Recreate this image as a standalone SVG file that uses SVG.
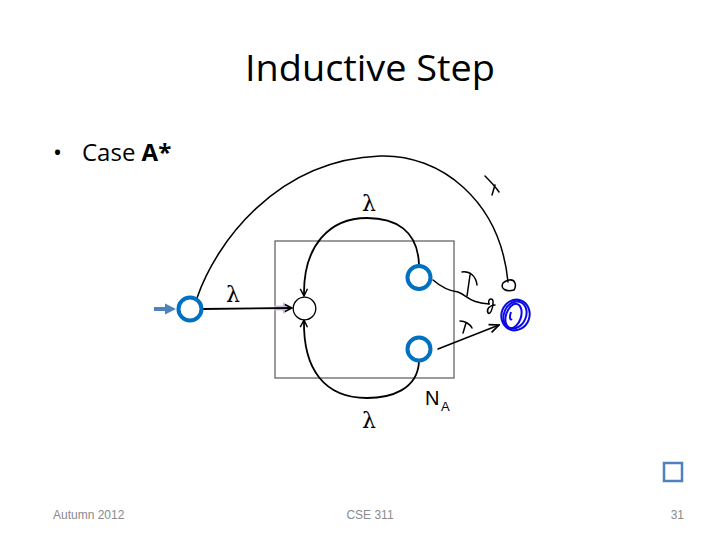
<svg xmlns="http://www.w3.org/2000/svg" width="720" height="540" viewBox="0 0 720 540">
<style>
.title{font-family:"Open Sans","Liberation Sans",sans-serif;font-size:37px;fill:#000}
.body{font-family:"Open Sans","Liberation Sans",sans-serif;font-size:24px;fill:#000}
.lam{font-family:"DejaVu Serif","Liberation Serif",serif;font-size:22px;fill:#000}
.foot{font-family:"Liberation Sans",sans-serif;font-size:12px;fill:#8a8a8a}
.edge{fill:none;stroke:#000;stroke-width:1.8}
.ink{fill:none;stroke:#000;stroke-width:1.5;stroke-linecap:round;stroke-linejoin:round}
.bnode{fill:#fff;stroke:#0070C0;stroke-width:4}
</style>
<defs>
<marker id="chev" viewBox="0 0 10 10" refX="9" refY="5" markerWidth="9" markerHeight="9" markerUnits="userSpaceOnUse" orient="auto">
<path d="M1,1 L9,5 L1,9" fill="none" stroke="#000" stroke-width="1.6"/>
</marker>
<marker id="chevBig" viewBox="0 0 10 10" refX="9" refY="5" markerWidth="12" markerHeight="12" markerUnits="userSpaceOnUse" orient="auto">
<path d="M1,1.5 L9,5 L1,8.5" fill="none" stroke="#000" stroke-width="1.4"/>
</marker>
</defs>
<rect width="720" height="540" fill="#fff"/>
<text class="title" x="370" y="81" text-anchor="middle" textLength="250" lengthAdjust="spacingAndGlyphs">Inductive Step</text>
<text class="body" x="53" y="161">•</text>
<text class="body" x="82" y="161">Case <tspan font-weight="bold">A*</tspan></text>

<g id="box">
<rect x="275" y="241" width="179" height="137" fill="none" stroke="#666" stroke-width="1.3"/>
<text x="425" y="405" font-family="Liberation Sans,sans-serif" font-size="20" fill="#000">N</text>
<text x="441" y="411" font-family="Liberation Sans,sans-serif" font-size="13" fill="#000">A</text>
</g>

<g id="connectors">
<path d="M154,309 L166,309" stroke="#4F81BD" stroke-width="4" fill="none"/>
<path d="M165,303.5 L176,309 L165,314.5 Z" fill="#4F81BD"/>
<path d="M274,308 L284,308" stroke="#C9BEDD" stroke-width="5" fill="none"/>
<path d="M283,302 L293,308 L283,314 Z" fill="#C9BEDD"/>
<path class="edge" d="M202,309 L292,308" marker-end="url(#chev)"/>
<path class="edge" d="M419,265 C418,230 395,218 367,218 C330,218 303,245 304,296" marker-end="url(#chev)"/>
<path class="edge" d="M419,361 C418,390 390,398 367,398 C325,398 303,370 304,320" marker-end="url(#chev)"/>
<path class="ink" d="M197,298 C215,245 275,160 380,156 C440,154 500,200 508,282"/>
<path class="ink" d="M503,283 C500,289 506,292 514,290 C517,285 515,279 509,280 C505,281 503,283 503,283"/>
<path class="ink" d="M433,280 C440,286 448,291 458,292 C468,296 470,303 489,304"/>
<path class="ink" d="M489,304 C487,298 494,297 493,303 C493,309 490,315 488,313 C486,309 490,305 495,305"/>
<path class="ink" d="M438,349 L499,325" marker-end="url(#chevBig)"/>
<path class="ink" d="M462,272 C470,271 476,276 477,285 M470,275 C469,282 468,289 467,296"/>
<path class="ink" d="M460,321 C465,321 470,324 472,328 M466,323 L463,333"/>
<path class="ink" d="M485,176 C490,181 495,186 499,192 M495,185 L492,195"/>
<text class="lam" x="226" y="302">λ</text>
<text class="lam" x="362" y="211">λ</text>
<text class="lam" x="362" y="428">λ</text>
</g>

<g id="q0"><circle class="bnode" cx="190" cy="309" r="11.5"/></g>
<g id="s0"><circle cx="304.5" cy="308.5" r="11.3" fill="#fff" stroke="#000" stroke-width="1.3"/></g>
<g id="f1"><circle class="bnode" cx="419" cy="277.5" r="11.5"/></g>
<g id="f2"><circle class="bnode" cx="419" cy="349" r="11.5"/></g>
<g id="qf" fill="none" stroke="#0A0AE6" stroke-width="2">
<ellipse cx="515.5" cy="315" rx="14" ry="15.5" transform="rotate(20 515.5 315)"/>
<ellipse cx="515" cy="315" rx="11" ry="14" transform="rotate(25 515 315)"/>
<ellipse cx="513.5" cy="316" rx="7.5" ry="12.5" transform="rotate(18 513.5 316)"/>
<path d="M511,312 C509,317 510,321 512,319"/>
</g>

<g id="square"><rect x="664" y="463" width="18" height="18" fill="#fff" stroke="#4F81BD" stroke-width="2.5"/></g>
<text class="foot" x="53" y="519">Autumn 2012</text>
<text class="foot" x="370" y="519" text-anchor="middle">CSE 311</text>
<text class="foot" x="684" y="519" text-anchor="end">31</text>
</svg>
